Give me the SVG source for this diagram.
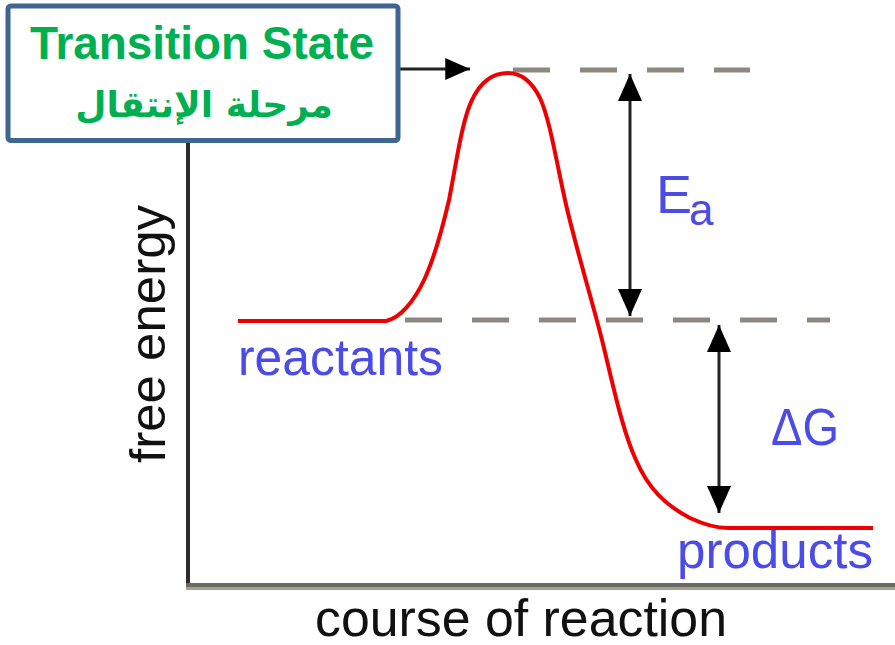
<svg xmlns="http://www.w3.org/2000/svg" width="895" height="645" viewBox="0 0 895 645">
<defs>
<style>
.lbl{font-family:"Liberation Sans",Arial,sans-serif;fill:#4b4be8}
.ax{font-family:"Liberation Sans",Arial,sans-serif;fill:#111}
.dash{stroke:#8c877f;stroke-width:5;stroke-dasharray:37 30;fill:none}
.arr{stroke:#222;stroke-width:3;fill:none;marker-end:url(#ah);marker-start:url(#ah)}
.curve{stroke:#ee0000;stroke-width:4;fill:none;stroke-linejoin:round}
.green{font-family:"Liberation Sans","DejaVu Sans",Arial,sans-serif;font-weight:bold;fill:#00b050}
</style>
<marker id="ah" viewBox="0 0 27 24" refX="27" refY="12" markerWidth="27" markerHeight="24" markerUnits="userSpaceOnUse" orient="auto-start-reverse">
<path d="M0,0 L27,12 L0,24 z" fill="#000"/>
</marker>
<marker id="ah1" viewBox="0 0 27 24" refX="27" refY="12" markerWidth="25" markerHeight="22" markerUnits="userSpaceOnUse" orient="auto">
<path d="M0,0 L27,12 L0,24 z" fill="#000"/>
</marker>
</defs>
<rect width="895" height="645" fill="#fff"/>

<g id="axes">
<line x1="188" y1="140" x2="188" y2="586" stroke="#2a2a2a" stroke-width="4"/>
<line x1="186" y1="585" x2="895" y2="585" stroke="#6b6a62" stroke-width="4"/>
<line x1="186" y1="588.5" x2="895" y2="588.5" stroke="#a8a098" stroke-width="3"/>
<text class="ax" transform="translate(165,334) rotate(-90)" x="0" y="0" font-size="50" text-anchor="middle" textLength="258" lengthAdjust="spacingAndGlyphs">free energy</text>
<text class="ax" x="521" y="636" font-size="52" text-anchor="middle" textLength="412" lengthAdjust="spacingAndGlyphs">course of reaction</text>
</g>

<g id="guides">
<line class="dash" x1="513" y1="70" x2="750" y2="70"/>
<line class="dash" x1="405" y1="320" x2="830" y2="320"/>
</g>

<g id="energy-curve">
<path class="curve" d="M238,321 L386,321 C400,318 414,302 425,278 C435,256 442,230 449,200 C456,165 462,120 472,100 C480,83 492,73 508,73 C522,73 532,82 540,98 C550,120 556,160 565,200 C575,245 592,300 602,340 C612,380 622,430 636,460 C648,488 665,505 690,518 C705,525 715,528 728,528 L873,528"/>
</g>

<g id="connectors">
<line x1="400" y1="69" x2="470" y2="69" stroke="#222" stroke-width="3" marker-end="url(#ah1)"/>
<line class="arr" x1="630" y1="74" x2="630" y2="316"/>
<line class="arr" x1="719" y1="325" x2="719" y2="513"/>
</g>

<g id="transition-state">
<rect x="8" y="6" width="390" height="134.5" rx="3" fill="#fff" stroke="#3f6591" stroke-width="5"/>
<text class="green" x="30" y="59" font-size="46" textLength="344" lengthAdjust="spacingAndGlyphs">Transition State</text>
<text class="green" x="204" y="117" font-size="36" text-anchor="middle" style="font-family:'DejaVu Sans',sans-serif" direction="rtl">مرحلة الإنتقال</text>
</g>

<g id="labels">
<text class="lbl" x="238" y="375" font-size="52" textLength="205" lengthAdjust="spacingAndGlyphs">reactants</text>
<text class="lbl" x="677" y="568" font-size="52" textLength="196" lengthAdjust="spacingAndGlyphs">products</text>
<text class="lbl" x="656" y="213" font-size="54">E</text>
<text class="lbl" x="689" y="225" font-size="44">a</text>
<text class="lbl" x="771" y="445" font-size="52" textLength="68" lengthAdjust="spacingAndGlyphs">ΔG</text>
</g>
</svg>
